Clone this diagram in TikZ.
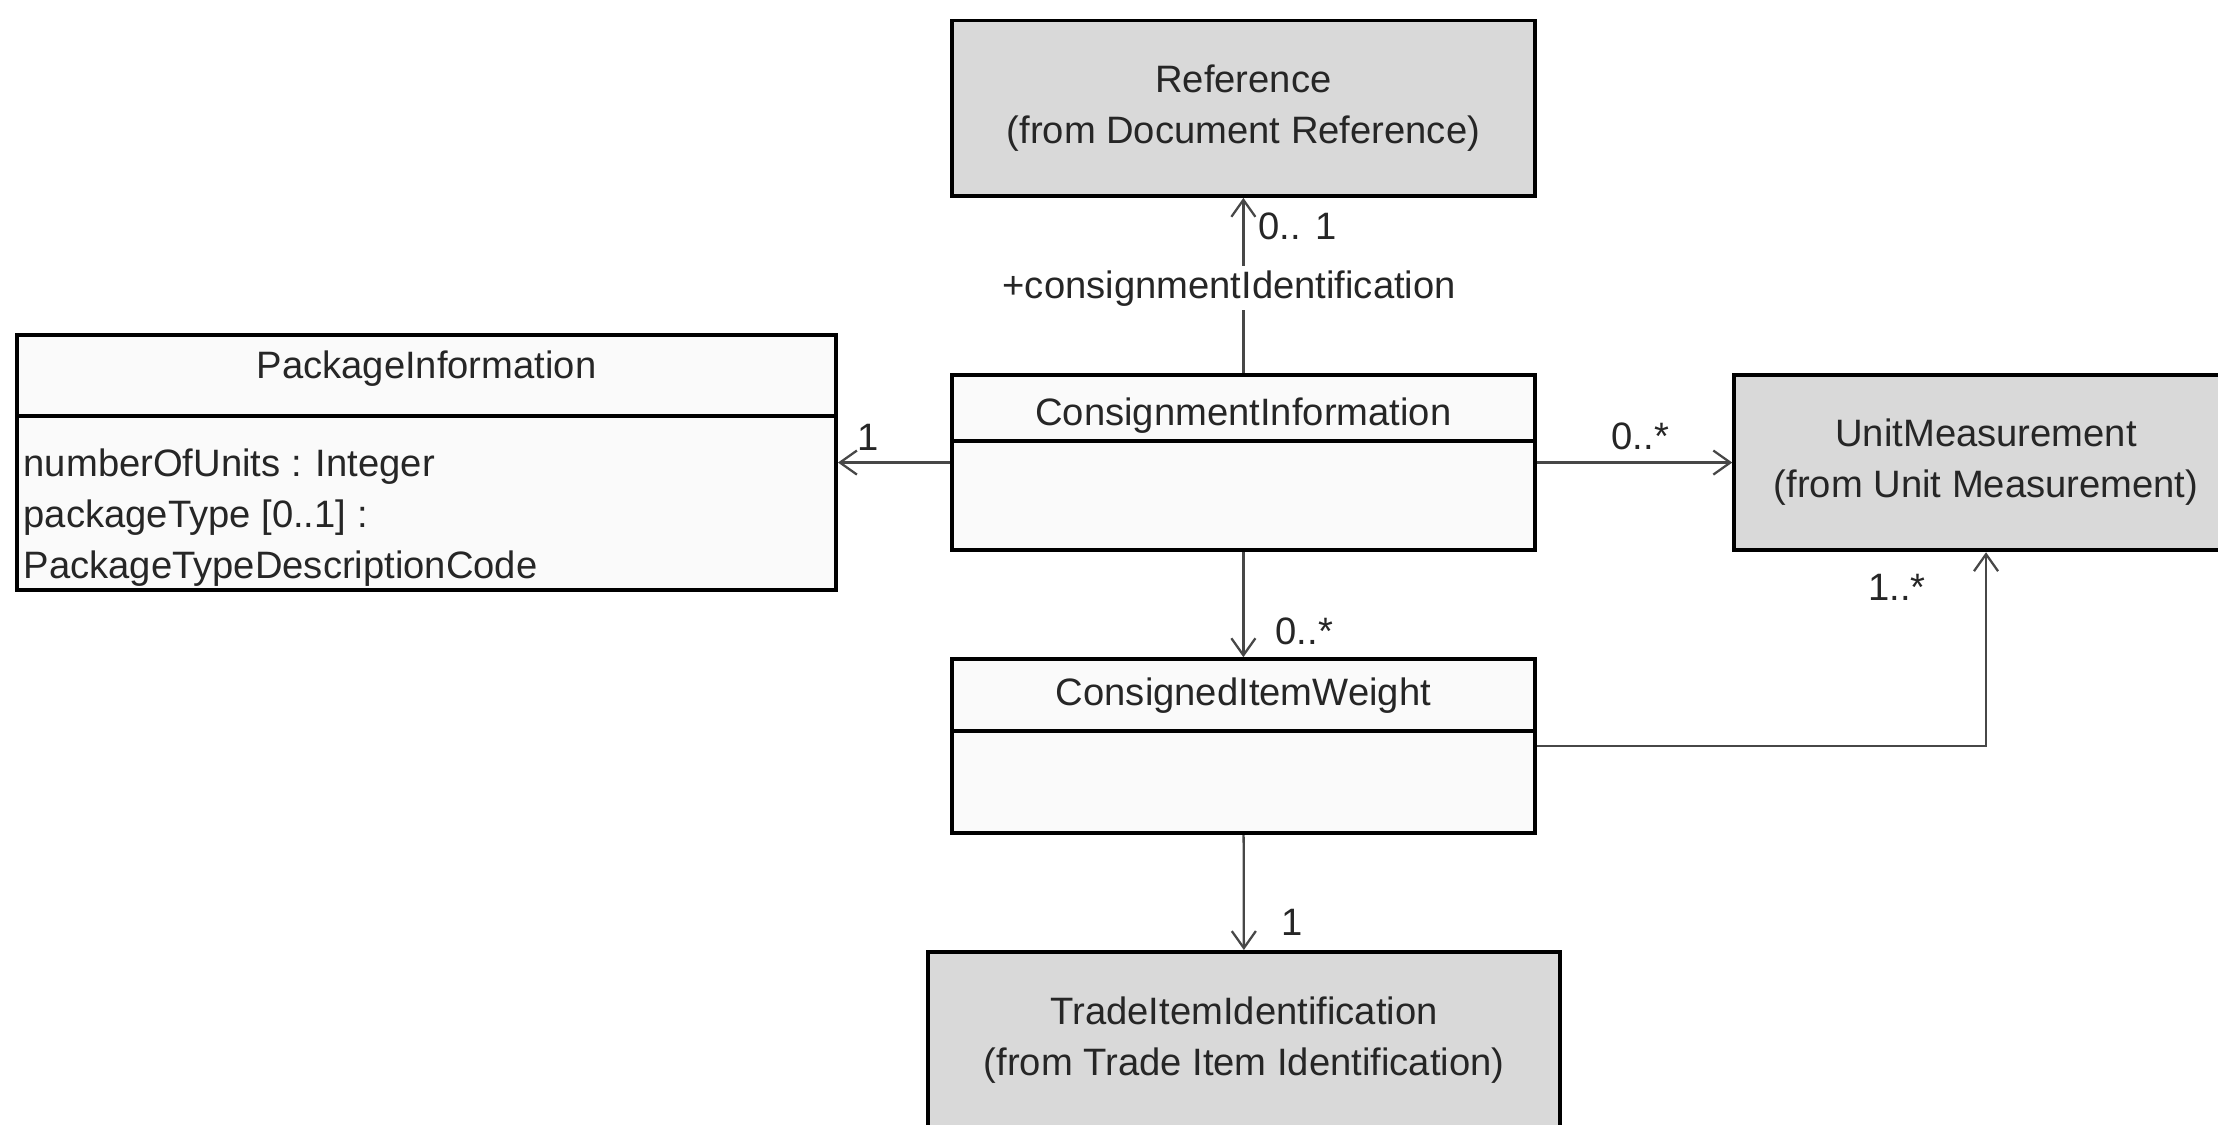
\documentclass[tikz,border=0pt]{standalone}
\usepackage{fontspec}
\setmainfont{Liberation Sans}
\usetikzlibrary{arrows.meta,positioning}
\definecolor{boxgray}{HTML}{D9D9D9}
\definecolor{boxwhite}{HTML}{FAFAFA}
\definecolor{linegray}{HTML}{474747}
\definecolor{textgray}{HTML}{262626}

\begin{document}
\begin{tikzpicture}[x=1pt, y=-1pt,
	every node/.style={font=\fontsize{27}{36}\selectfont, text=textgray},
	umlbox/.style={draw=black, line width=2.8pt, inner sep=0pt},
	classbox/.style={umlbox, fill=boxwhite},
	extbox/.style={umlbox, fill=boxgray, align=center, minimum height=124pt},
	classhead/.style={umlbox, anchor=north},
	assoc/.style={draw=linegray, line width=1.6pt, -{Straight Barb[length=12pt, width=17pt]}},
	mult/.style={inner sep=2pt}]
	\useasboundingbox (0,0) rectangle (1568,795);

	\node[extbox, minimum width=412pt] (ref) at (879,76.5) {Reference\\(from Document Reference)};
	\node[classbox, minimum width=412pt, minimum height=124pt] (ci) at (879,327) {};
	\node[classhead, minimum width=412pt, minimum height=47pt, text height=30pt] (cihead) at (ci.north) {ConsignmentInformation};
	\node[classbox, minimum width=579pt, minimum height=180pt] (pkg) at (301.5,327) {};
	\node[classhead, minimum width=579pt, minimum height=57pt, text depth=16pt] (pkghead) at (pkg.north) {PackageInformation};
	\node[align=left, inner sep=0pt, below right=22pt and 6pt of pkghead.south west] (pkgattr) {numberOfUnits : Integer\\packageType [0..1] :\\PackageTypeDescriptionCode};
	\node[extbox, minimum width=356pt] (um) at (1404,327) {UnitMeasurement\\(from Unit Measurement)};
	\node[classbox, minimum width=412pt, minimum height=123pt] (cw) at (879,527.5) {};
	\node[classhead, minimum width=412pt, minimum height=51pt] (cwhead) at (cw.north) {ConsignedItemWeight};
	\node[extbox, minimum width=447pt] (tii) at (879.5,735) {TradeItemIdentification\\(from Trade Item Identification)};

	\draw[assoc] (ci) -- node[mult, pos=0.84, right=8pt] {0.. 1}
		node[pos=0.5, fill=white, inner sep=3pt, xshift=-10pt, yshift=-2pt] {+consignmentIdentification} (ref);
	\draw[assoc] (ci) -- node[mult, pos=0.73, above=6pt] {1} (pkg);
	\draw[assoc] (ci) -- node[mult, pos=0.53, above=6pt] {0..*} (um);
	\draw[assoc] (ci) -- node[mult, pos=0.75, right=20pt] {0..*} (cw);
	\draw[assoc] (cw) -| node[mult, pos=0.91, left=40pt] {1..*} (um);
	\draw[assoc] (cw) -- node[mult, pos=0.76, right=24pt] {1} (tii);
\end{tikzpicture}
\end{document}
